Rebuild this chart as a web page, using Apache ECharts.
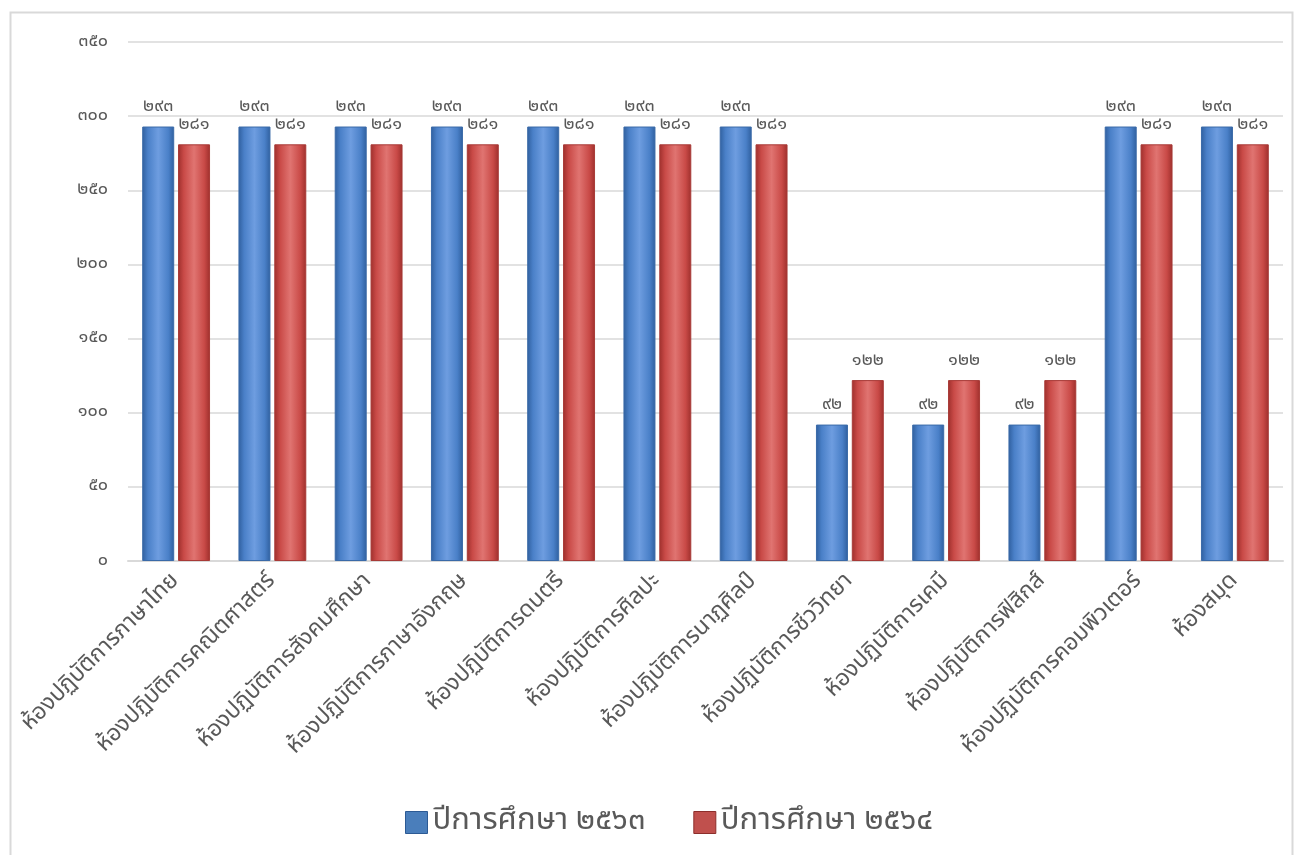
<!DOCTYPE html>
<html>
<head>
<meta charset="utf-8">
<script src="https://cdn.jsdelivr.net/npm/echarts@6/dist/echarts.min.js"></script>
<style>
html,body{margin:0;padding:0;background:#fff;}
#chart{width:1303px;height:855px;}
</style>
</head>
<body>
<div id="chart"></div>
<script>
var categories = ['ห้องปฏิบัติการภาษาไทย','ห้องปฏิบัติการคณิตศาสตร์','ห้องปฏิบัติการสังคมศึกษา','ห้องปฏิบัติการภาษาอังกฤษ','ห้องปฏิบัติการดนตรี','ห้องปฏิบัติการศิลปะ','ห้องปฏิบัติการนาฏศิลป์','ห้องปฏิบัติการชีววิทยา','ห้องปฏิบัติการเคมี','ห้องปฏิบัติการฟิสิกส์','ห้องปฏิบัติการคอมพิวเตอร์','ห้องสมุด'];
var seriesNames = ['ปีการศึกษา ๒๕๖๓','ปีการศึกษา ๒๕๖๔'];
var values2563 = [293,293,293,293,293,293,293,92,92,92,293,293];
var values2564 = [281,281,281,281,281,281,281,122,122,122,281,281];
var yTickLabels = ['๐','๕๐','๑๐๐','๑๕๐','๒๐๐','๒๕๐','๓๐๐','๓๕๐'];

var thaiDigits = ['๐','๑','๒','๓','๔','๕','๖','๗','๘','๙'];
function toThai(n){ return String(n).replace(/[0-9]/g, function(d){ return thaiDigits[+d]; }); }
var FONT = '"Noto Sans Thai", "Noto Sans", Tahoma, sans-serif';

function grad(dark, mid, light){
  return new echarts.graphic.LinearGradient(0,0,1,0,[
    {offset:0, color:dark},{offset:0.18, color:mid},{offset:0.5, color:light},{offset:0.82, color:mid},{offset:1, color:dark}
  ]);
}

var chart = echarts.init(document.getElementById('chart'));
chart.setOption({
  backgroundColor:'#fff',
  animation:false,
  graphic:[{type:'rect', shape:{x:10.5,y:12.5,width:1282,height:860}, style:{fill:'none', stroke:'#d9d9d9', lineWidth:2}, silent:true}],
  grid:{left:128, right:20, top:42, bottom:294, containLabel:false},
  legend:{
    bottom:12, left:400, itemWidth:22, itemHeight:22, itemGap:48,
    textStyle:{fontSize:31, color:'#595959', fontFamily:FONT},
    data:[{name:seriesNames[0], icon:'rect', itemStyle:{color:'#4a7ebb', borderColor:'#2c5a94', borderWidth:1}},
          {name:seriesNames[1], icon:'rect', itemStyle:{color:'#c0504d', borderColor:'#8c2e2b', borderWidth:1}}]
  },
  xAxis:{
    type:'category', data:categories,
    axisLine:{lineStyle:{color:'#d9d9d9', width:2}},
    axisTick:{show:false},
    axisLabel:{rotate:45, fontSize:23, color:'#595959', fontFamily:FONT, interval:0, margin:17}
  },
  yAxis:{
    type:'value', min:0, max:350, interval:50,
    axisLine:{show:false}, axisTick:{show:false},
    splitLine:{lineStyle:{color:'#d9d9d9', width:1.5}},
    axisLabel:{fontSize:18, color:'#595959', fontFamily:FONT, margin:20,
      formatter:function(v){ return yTickLabels[Math.round(v/50)]; }}
  },
  series:[
    {name:seriesNames[0], type:'bar', data:values2563, barWidth:32, barGap:'12%',
      itemStyle:{color:grad('#2f5f9e','#4a80c8','#6e9de0'), borderColor:'#3a6aa8', borderWidth:1},
      label:{show:true, position:'top', distance:10, fontSize:18, color:'#595959', fontFamily:FONT,
        formatter:function(p){ return toThai(p.value); }}},
    {name:seriesNames[1], type:'bar', data:values2564, barWidth:32,
      itemStyle:{color:grad('#9e2f2c','#c94a47','#e07471'), borderColor:'#a83a37', borderWidth:1},
      label:{show:true, position:'top', distance:10, fontSize:18, color:'#595959', fontFamily:FONT,
        formatter:function(p){ return toThai(p.value); }}}
  ]
});
</script>
</body>
</html>
